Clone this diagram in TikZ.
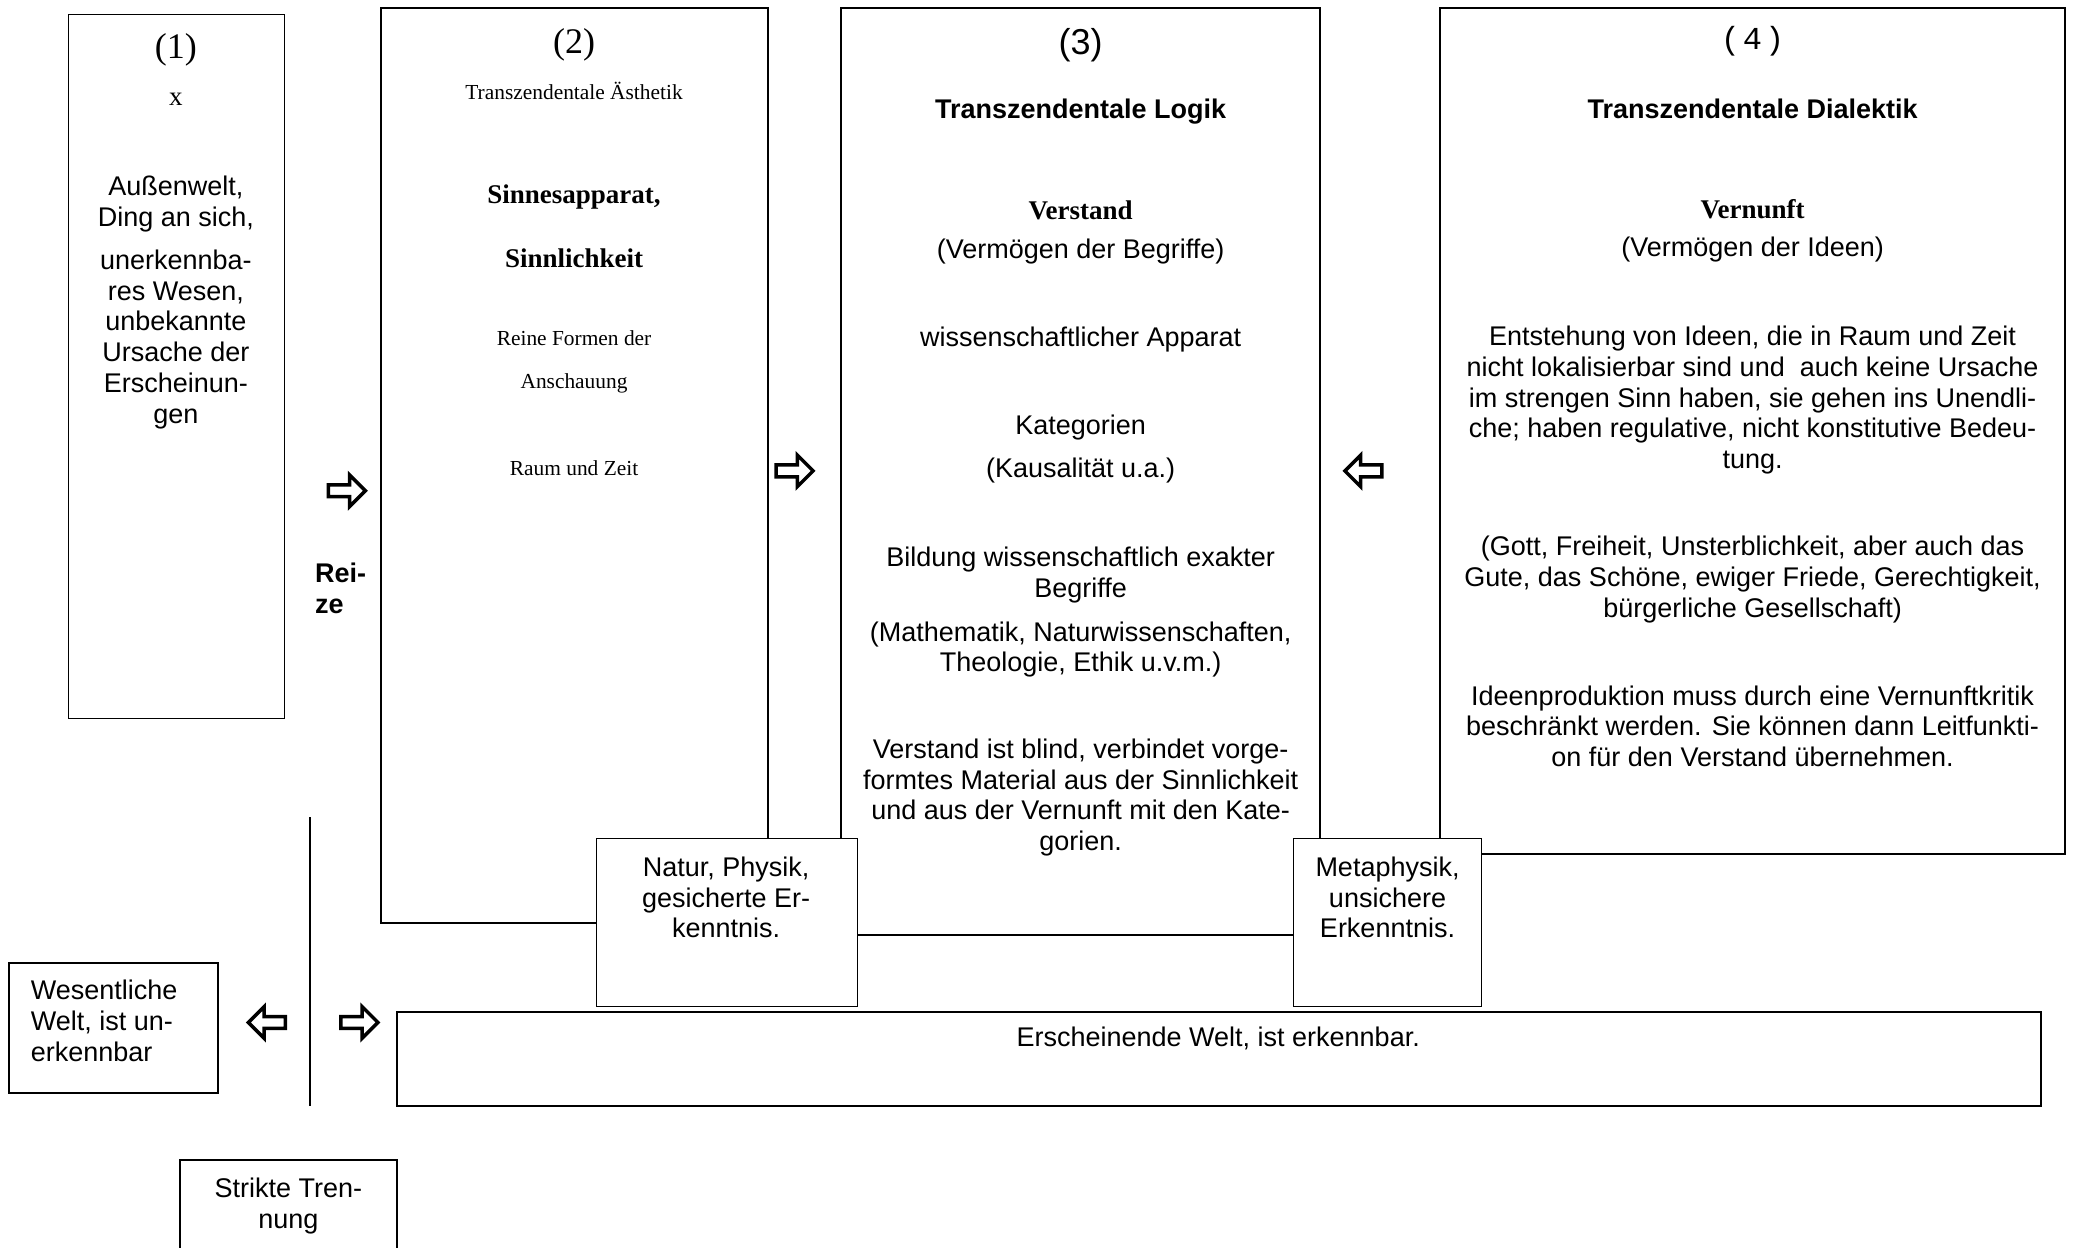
\documentclass[tikz,border=0pt]{standalone}
\usepackage{fontspec}
\setmainfont{Liberation Serif}
\setsansfont{Liberation Sans}
\newfontfamily\monofont{Liberation Mono}
\usetikzlibrary{shapes.arrows}
\tikzset{
  sz/.style 2 args={minimum width={#1*0.66135pt}, minimum height={#2*0.66135pt}},
  box/.style={draw, line width=1pt, fill=white, inner sep=0pt},
  thinbox/.style={box, line width=0.5pt},
  ar/.style={font=\sffamily\fontsize{13.5}{15.4}\selectfont, align=center, inner sep=0pt},
  arb/.style={font=\sffamily\bfseries\fontsize{13.5}{15.4}\selectfont, align=center, inner sep=0pt},
  tm/.style={font=\rmfamily\fontsize{13.5}{15.4}\selectfont, align=center, inner sep=0pt},
  tmb/.style={font=\rmfamily\bfseries\fontsize{13.5}{15.4}\selectfont, align=center, inner sep=0pt},
  tms/.style={font=\rmfamily\fontsize{10.7}{12}\selectfont, align=center, inner sep=0pt},
  bigtm/.style={font=\rmfamily\fontsize{18}{20}\selectfont, inner sep=0pt},
  bigar/.style={font=\sffamily\fontsize{18}{20}\selectfont, inner sep=0pt},
  monolbl/.style={font=\monofont\fontsize{16}{18}\selectfont, inner sep=0pt},
  blockarrow/.style={single arrow, draw, line width=1.75pt, line join=miter,
    inner sep=2.1pt, minimum height=18.5pt, single arrow head extend=4.95pt,
    single arrow head indent=0pt, fill=white},
  leftarrow/.style={blockarrow, shape border rotate=180}
}

\begin{document}
\begin{tikzpicture}[x=0.66135pt,y=-0.66135pt]
\useasboundingbox (0,0) rectangle (1568,943);
\clip (0,0) rectangle (1568,943);

% main boxes
\node[thinbox, sz={163}{532}] (b1) at (133.5,277) {};
\node[box, sz={293}{692}] (b2) at (434.5,352) {};
\node[box, sz={362}{701}] (b3) at (817,356.5) {};
\node[box, sz={472}{640}] (b4) at (1325,326) {};
\node[thinbox, sz={197}{127}] (natur) at (549.5,697.5) {};
\node[thinbox, sz={142}{127}] (meta) at (1049,697.5) {};
\node[box, sz={1243}{71}] (ersch) at (921.5,800.5) {};
\node[box, sz={158}{98}] (wes) at (86,777) {};
\node[box, line width=0.8pt, sz={164}{73}] (strikte) at (218,913.5) {};

% separator line
\coordinate (vt) at (234,618);
\coordinate (vb) at (234,836);
\draw[line width=1pt] (vt) -- (vb);

% box 1
\node[bigtm] (t1a) at (133,38) {(1)};
\node[tm] (t1b) at (133,75) {x};
\node[ar] (t1c) at (133,154) {Außenwelt,\\Ding an sich,};
\node[ar] (t1d) at (133,256.5) {unerkennba-\\res Wesen,\\unbekannte\\Ursache der\\Erscheinun-\\gen};

% box 2
\node[bigtm] (t2a) at (434,34) {(2)};
\node[tms] (t2b) at (434,69) {Transzendentale Ästhetik};
\node[tmb] (t2c) at (434,149) {Sinnesapparat,};
\node[tmb] (t2d) at (434,195) {Sinnlichkeit};
\node[tms] (t2e) at (434,256) {Reine Formen der};
\node[tms] (t2f) at (434,290) {Anschauung};
\node[tms] (t2g) at (434,354) {Raum und Zeit};

% box 3
\node[bigar] (t3a) at (817,34) {(3)};
\node[arb] (t3b) at (817,84) {Transzendentale Logik};
\node[tmb] (t3c) at (817,159) {Verstand};
\node[ar] (t3d) at (817,190) {(Vermögen der Begriffe)};
\node[ar] (t3e) at (817,257) {wissenschaftlicher Apparat};
\node[ar] (t3f) at (817,323) {Kategorien};
\node[ar] (t3g) at (817,356) {(Kausalität u.a.)};
\node[ar] (t3h) at (817,435) {Bildung wissenschaftlich exakter\\Begriffe};
\node[ar] (t3i) at (817,491) {(Mathematik, Naturwissenschaften,\\Theologie, Ethik u.v.m.)};
\node[ar] (t3j) at (817,603) {Verstand ist blind, verbindet vorge-\\formtes Material aus der Sinnlichkeit\\und aus der Vernunft mit den Kate-\\gorien.};

% box 4
\node[monolbl] (t4a) at (1325,31) {(\hspace{1.5pt}4\hspace{1.5pt})};
\node[arb] (t4b) at (1325,82) {Transzendentale Dialektik};
\node[tmb] (t4c) at (1325,158) {Vernunft};
\node[ar] (t4d) at (1325,189) {(Vermögen der Ideen)};
\node[ar] (t4e) at (1325,302.5) {Entstehung von Ideen, die in Raum und Zeit\\nicht lokalisierbar sind und\ \ auch keine Ursache\\im strengen Sinn haben, sie gehen ins Unendli-\\che; haben regulative, nicht konstitutive Bedeu-\\tung.};
\node[ar] (t4f) at (1325,438) {(Gott, Freiheit, Unsterblichkeit, aber auch das\\Gute, das Schöne, ewiger Friede, Gerechtigkeit,\\bürgerliche Gesellschaft)};
\node[ar] (t4g) at (1325,549) {Ideenproduktion muss durch eine Vernunftkritik\\beschränkt werden. Sie können dann Leitfunkti-\\on für den Verstand übernehmen.};

% lower boxes text
\node[ar] (tnat) at (549,678.5) {Natur, Physik,\\gesicherte Er-\\kenntnis.};
\node[ar] (tmeta) at (1049,678.5) {Metaphysik,\\unsichere\\Erkenntnis.};
\node[ar] (tersch) at (921,785) {Erscheinende Welt, ist erkennbar.};
\node[ar, align=left, anchor=west] (twes) at (23,772) {Wesentliche\\Welt, ist un-\\erkennbar};
\node[ar] (tstr) at (218,912) {Strikte Tren-\\nung};
\node[arb, align=left, anchor=west] (treize) at (238,445) {Rei-\\ze};

% block arrows
\node[blockarrow] (a1) at (260,371) {};
\node[blockarrow] (a2) at (598.5,356) {};
\node[leftarrow] (a3) at (1033,356) {};
\node[leftarrow] (a4) at (204,773) {};
\node[blockarrow] (a5) at (269.5,773) {};
\end{tikzpicture}
\end{document}
